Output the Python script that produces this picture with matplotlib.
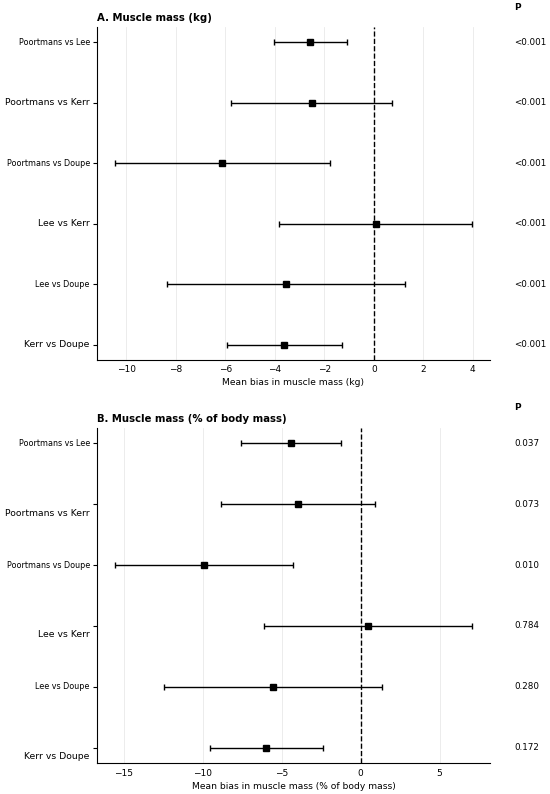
import matplotlib
matplotlib.use("Agg")
import matplotlib.pyplot as plt

# comparisons, top to bottom
labels = ["Poortmans vs Lee", "Poortmans vs Kerr", "Poortmans vs Doupe",
          "Lee vs Kerr", "Lee vs Doupe", "Kerr vs Doupe"]
label_sizes = [5.8, 6.7, 5.8, 6.7, 5.8, 6.7]

# A. muscle mass (kg)
kg_mean = [-2.57, -2.49, -6.13, 0.07, -3.56, -3.62]
kg_low = [-4.04, -5.77, -10.46, -3.84, -8.36, -5.95]
kg_high = [-1.10, 0.75, -1.78, 3.99, 1.25, -1.27]
kg_p = ["<0.001", "<0.001", "<0.001", "<0.001", "<0.001", "<0.001"]

# B. muscle mass (% of body mass)
pct_mean = [-4.42, -3.95, -9.93, 0.46, -5.54, -6.00]
pct_low = [-7.59, -8.81, -15.57, -6.13, -12.45, -9.55]
pct_high = [-1.23, 0.91, -4.27, 7.07, 1.39, -2.37]
pct_p = ["0.037", "0.073", "0.010", "0.784", "0.280", "0.172"]

fig = plt.figure(figsize=(5.5, 7.94), dpi=100)


def forest(ax, mean, low, high, pvals, title, xlabel, xlim, xticks, shifted):
    y = list(range(len(mean)))
    xerr = [[m - l for m, l in zip(mean, low)], [h - m for m, h in zip(mean, high)]]
    ax.errorbar(mean, y, xerr=xerr, fmt="s", color="black", ecolor="black",
                markersize=4, elinewidth=1, capsize=2, capthick=1, zorder=3)
    ax.axvline(0, color="black", linestyle="--", linewidth=1, zorder=2)
    ax.set_xlim(*xlim)
    ax.set_ylim(len(mean) - 0.75, -0.25)
    ax.set_xticks(xticks)
    ax.grid(axis="x", color="#e9e9e9", linewidth=0.6, zorder=0)
    ax.set_axisbelow(True)
    ax.spines["top"].set_visible(False)
    ax.spines["right"].set_visible(False)
    ax.tick_params(axis="x", labelsize=6.5, length=0, pad=4)
    ax.tick_params(axis="y", length=3)
    ax.set_yticks(y)
    ax.set_yticklabels([])
    # row labels, some drop a little below their tick
    for yi, lab, s, sh in zip(y, labels, label_sizes, shifted):
        ax.annotate(lab, xy=(0, yi), xycoords=ax.get_yaxis_transform(),
                    xytext=(-5, -6.5 if sh else 0), textcoords="offset points",
                    ha="right", va="center", fontsize=s)
    ax.set_xlabel(xlabel, fontsize=6.6, labelpad=3)
    ax.set_title(title, loc="left", fontsize=7.3, fontweight="bold", pad=4)
    ax.text(1.061, 1.06, "P", transform=ax.transAxes, fontsize=6.4,
            fontweight="bold", ha="left", va="center")
    for yi, p in zip(y, pvals):
        ax.text(1.061, yi, p, transform=ax.get_yaxis_transform(), fontsize=6.3,
                ha="left", va="center")


ax1 = fig.add_axes([0.176, 0.547, 0.715, 0.419])
forest(ax1, kg_mean, kg_low, kg_high, kg_p, "A. Muscle mass (kg)",
       "Mean bias in muscle mass (kg)", (-11.2, 4.7), [-10, -8, -6, -4, -2, 0, 2, 4],
       [False] * 6)

ax2 = fig.add_axes([0.176, 0.039, 0.715, 0.422])
forest(ax2, pct_mean, pct_low, pct_high, pct_p, "B. Muscle mass (% of body mass)",
       "Mean bias in muscle mass (% of body mass)", (-16.7, 8.2), [-15, -10, -5, 0, 5],
       [False, True, False, True, False, True])

fig.savefig("out.png", dpi=100)
